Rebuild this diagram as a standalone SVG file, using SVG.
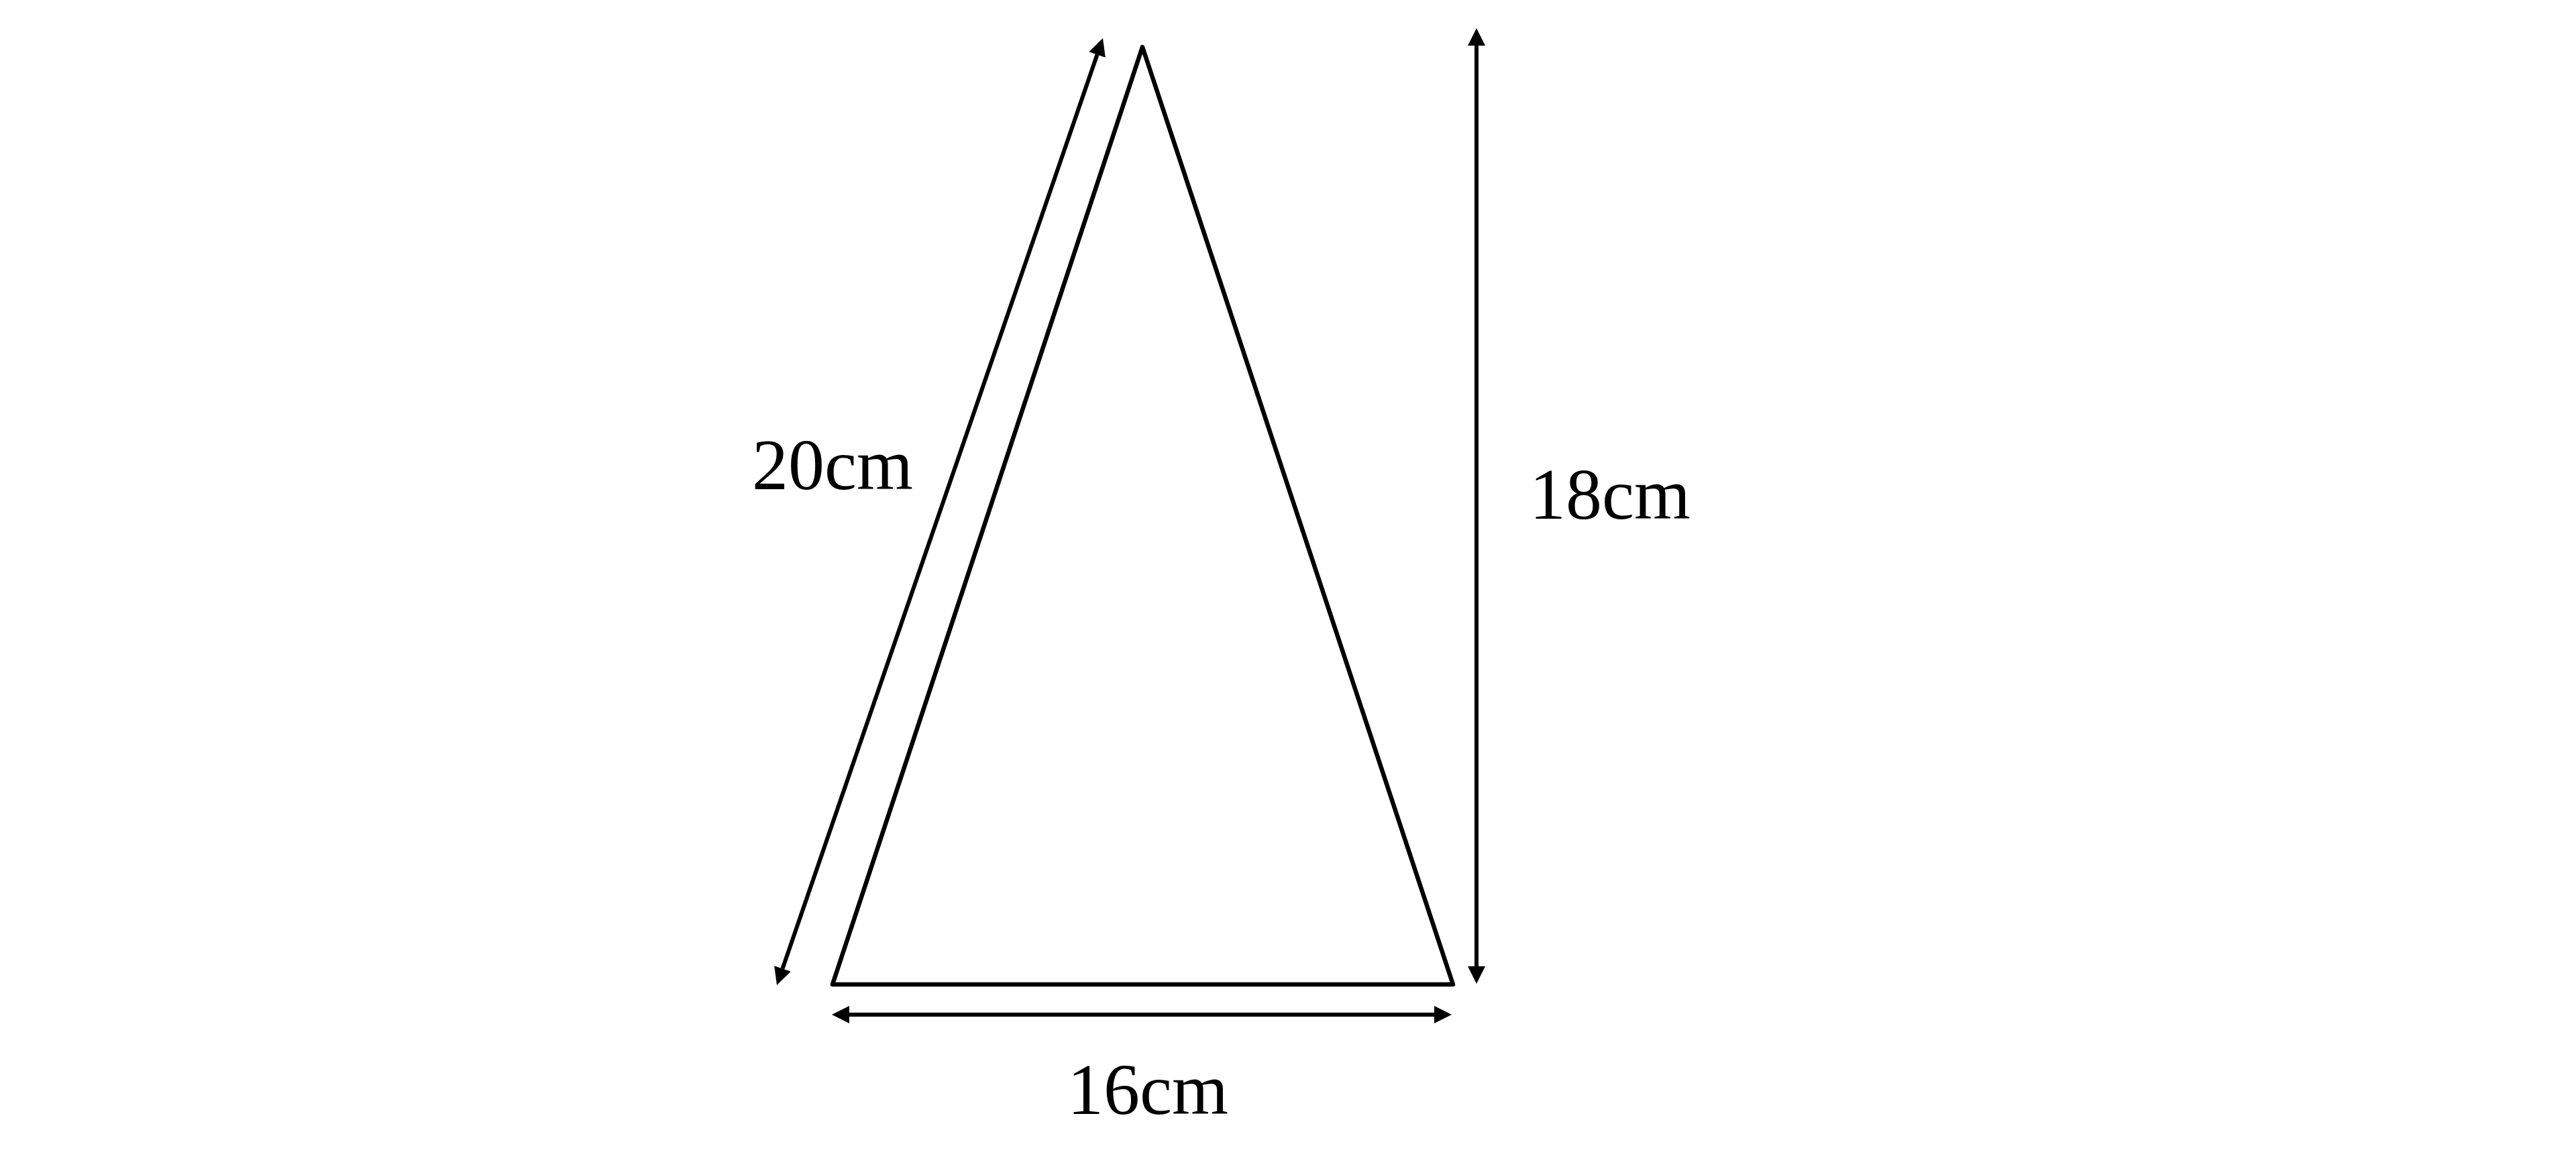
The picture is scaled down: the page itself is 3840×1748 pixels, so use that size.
<svg xmlns="http://www.w3.org/2000/svg" width="3840" height="1748" viewBox="0 0 3840 1748">
<style>
.edge{fill:none;stroke:#000;stroke-width:6.5;stroke-linejoin:round}
.dim{fill:none;stroke:#000;stroke-width:6;marker-start:url(#ah);marker-end:url(#ah)}
.lbl{font-family:"Liberation Serif","DejaVu Serif",serif;font-size:108px;fill:#000;text-anchor:middle}
</style>
<defs>
<marker id="ah" markerUnits="userSpaceOnUse" markerWidth="28" markerHeight="28" viewBox="0 -14 28 28" refX="0" refY="0" orient="auto-start-reverse">
<path d="M0,-13 L26,0 L0,13 z" fill="#000"/>
</marker>
</defs>
<rect width="3840" height="1748" fill="#fff"/>
<g id="triangle">
<polygon class="edge" points="1703,70 2166,1467 1241,1467"/>
</g>
<g id="connectors">
<line class="dim" x1="1635.5" y1="81.6" x2="1166.5" y2="1443.4"/>
<line class="dim" x1="2201" y1="68" x2="2201" y2="1440"/>
<line class="dim" x1="1266" y1="1512" x2="2138" y2="1512"/>
</g>
<g id="label-20">
<text class="lbl" x="1241" y="729">20cm</text>
</g>
<g id="label-18">
<text class="lbl" x="2400" y="773">18cm</text>
</g>
<g id="label-16">
<text class="lbl" x="1711" y="1660">16cm</text>
</g>
</svg>
